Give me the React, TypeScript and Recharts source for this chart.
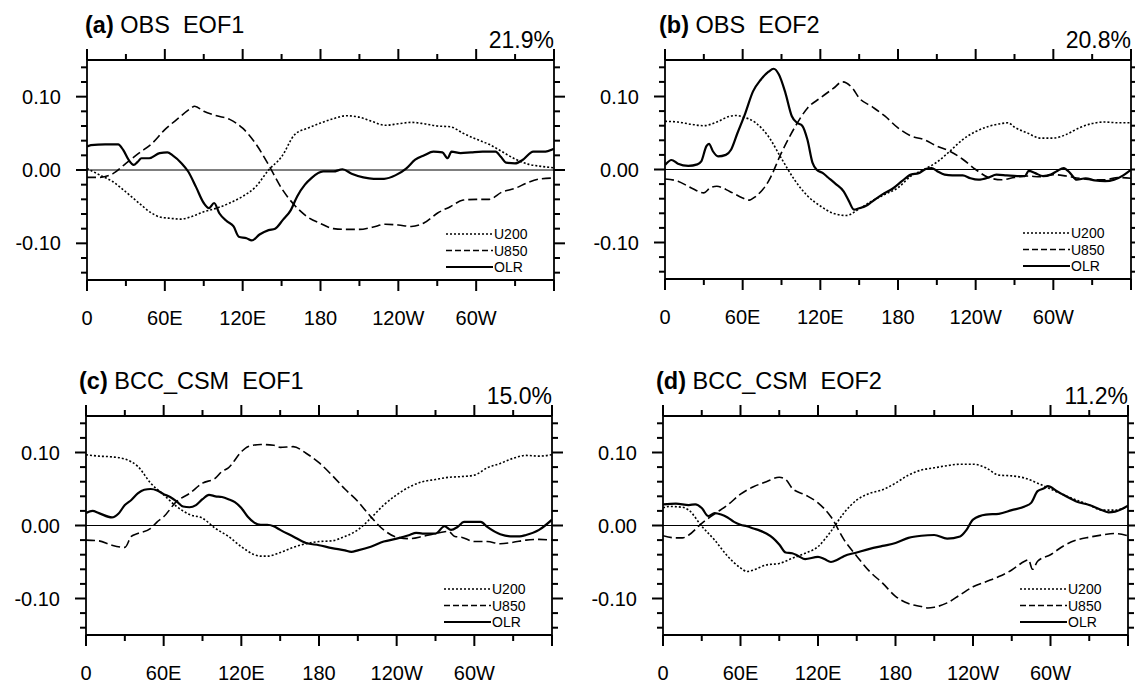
import React from 'react';
import { LineChart, Line, XAxis, YAxis, ReferenceLine } from 'recharts';

type Pt = [number, number];

const FONT = '"Liberation Sans", Arial, Helvetica, sans-serif';

// ---------- axis ticks ----------
const xTicks = [0, 30, 60, 90, 120, 150, 180, 210, 240, 270, 300, 330, 360];
const xMajorTicks = [0, 60, 120, 180, 240, 300];
const xTickLabels = ['0', '60E', '120E', '180', '120W', '60W'];
const yTicks = [-0.14, -0.12, -0.1, -0.08, -0.06, -0.04, -0.02, 0, 0.02, 0.04, 0.06, 0.08, 0.1, 0.12, 0.14];
const yMajorTicks = [-0.1, 0, 0.1];
const yTickLabels = ['-0.10', '0.00', '0.10'];
const legendNames = ['U200', 'U850', 'OLR'];

// ---------- (a) OBS EOF1 ----------
const aU200: Pt[] = [[0,0.002],[10,-0.007],[20,-0.016],[30,-0.030],[40,-0.045],[50,-0.059],[56,-0.064],[65,-0.066],[72,-0.067],[80,-0.064],[90,-0.057],[100,-0.052],[110,-0.045],[120,-0.036],[130,-0.023],[140,0.000],[150,0.018],[160,0.048],[170,0.057],[180,0.064],[190,0.070],[200,0.074],[210,0.072],[220,0.066],[230,0.061],[240,0.063],[250,0.065],[260,0.063],[270,0.060],[280,0.059],[290,0.050],[300,0.042],[310,0.035],[320,0.025],[330,0.015],[340,0.008],[350,0.005],[360,0.003]];
const aU850: Pt[] = [[0,-0.010],[10,-0.010],[20,-0.005],[30,0.009],[40,0.023],[50,0.036],[60,0.055],[70,0.070],[80,0.084],[83,0.087],[90,0.080],[100,0.074],[110,0.069],[120,0.057],[130,0.036],[140,0.007],[150,-0.025],[160,-0.048],[170,-0.064],[180,-0.073],[190,-0.080],[200,-0.081],[210,-0.081],[220,-0.078],[230,-0.074],[240,-0.075],[250,-0.077],[260,-0.072],[270,-0.059],[280,-0.050],[290,-0.041],[300,-0.040],[310,-0.040],[320,-0.030],[330,-0.025],[340,-0.017],[350,-0.012],[360,-0.011]];
const aOLR: Pt[] = [[0,0.032],[3,0.034],[14,0.035],[24,0.035],[28,0.027],[32,0.014],[36,0.007],[39,0.011],[42,0.016],[48,0.016],[56,0.023],[62,0.024],[66,0.020],[73,0.009],[78,-0.002],[84,-0.023],[90,-0.045],[94,-0.052],[98,-0.045],[102,-0.059],[108,-0.070],[113,-0.077],[117,-0.091],[123,-0.093],[127,-0.096],[133,-0.088],[140,-0.082],[145,-0.080],[151,-0.068],[157,-0.055],[162,-0.036],[168,-0.020],[173,-0.011],[182,-0.002],[190,-0.002],[197,0.001],[204,-0.005],[213,-0.010],[221,-0.012],[229,-0.012],[238,-0.007],[246,0.002],[253,0.014],[260,0.020],[267,0.025],[274,0.024],[278,0.016],[281,0.025],[288,0.023],[296,0.024],[305,0.025],[315,0.025],[319,0.018],[323,0.010],[330,0.009],[336,0.014],[344,0.025],[352,0.025],[360,0.029]];

// ---------- (b) OBS EOF2 ----------
const bU200: Pt[] = [[0,0.066],[10,0.065],[20,0.062],[30,0.060],[40,0.065],[50,0.073],[55,0.074],[60,0.072],[70,0.064],[80,0.045],[90,0.015],[100,-0.014],[110,-0.036],[120,-0.050],[130,-0.060],[140,-0.063],[150,-0.054],[160,-0.043],[170,-0.034],[180,-0.025],[190,-0.009],[200,0.000],[210,0.010],[220,0.025],[230,0.041],[240,0.052],[250,0.059],[260,0.063],[265,0.064],[270,0.058],[280,0.050],[290,0.043],[300,0.043],[310,0.048],[320,0.057],[330,0.063],[340,0.065],[350,0.064],[360,0.064]];
const bU850: Pt[] = [[0,-0.013],[10,-0.016],[20,-0.025],[30,-0.032],[35,-0.025],[40,-0.023],[50,-0.030],[60,-0.039],[65,-0.042],[70,-0.037],[80,-0.016],[90,0.023],[100,0.057],[110,0.084],[120,0.098],[130,0.111],[137,0.120],[145,0.111],[150,0.098],[160,0.086],[170,0.073],[180,0.057],[190,0.046],[200,0.041],[210,0.032],[220,0.025],[230,0.014],[240,0.000],[250,-0.011],[260,-0.014],[270,-0.011],[280,-0.009],[290,-0.010],[300,-0.007],[310,-0.009],[320,-0.012],[330,-0.014],[340,-0.014],[350,-0.011],[360,-0.012]];
const bOLR: Pt[] = [[0,0.006],[5,0.013],[10,0.008],[18,0.005],[25,0.007],[28,0.011],[32,0.032],[34,0.035],[37,0.025],[41,0.018],[47,0.020],[51,0.027],[56,0.050],[62,0.077],[68,0.107],[74,0.123],[80,0.134],[84,0.138],[88,0.130],[93,0.105],[98,0.073],[102,0.064],[106,0.060],[110,0.041],[114,0.009],[117,0.000],[122,-0.005],[126,-0.011],[132,-0.020],[138,-0.030],[142,-0.043],[146,-0.055],[150,-0.053],[155,-0.050],[160,-0.044],[168,-0.034],[176,-0.026],[183,-0.016],[190,-0.007],[196,-0.005],[202,0.001],[206,0.002],[210,-0.002],[216,-0.007],[222,-0.008],[230,-0.008],[236,-0.012],[242,-0.014],[250,-0.011],[256,-0.007],[264,-0.008],[272,-0.009],[278,-0.009],[281,-0.002],[286,-0.005],[292,-0.009],[298,-0.007],[303,-0.002],[308,0.002],[313,-0.005],[318,-0.014],[325,-0.012],[332,-0.015],[340,-0.016],[347,-0.014],[354,-0.008],[360,0.000]];

// ---------- (c) BCC_CSM EOF1 ----------
const cU200: Pt[] = [[0,0.097],[10,0.095],[20,0.094],[30,0.091],[40,0.081],[50,0.058],[60,0.042],[70,0.026],[80,0.015],[90,0.010],[100,-0.004],[110,-0.015],[120,-0.029],[130,-0.040],[135,-0.042],[140,-0.042],[150,-0.037],[160,-0.030],[170,-0.025],[180,-0.022],[190,-0.021],[200,-0.015],[210,-0.006],[220,0.010],[230,0.028],[240,0.042],[250,0.053],[260,0.060],[270,0.063],[280,0.066],[290,0.067],[300,0.069],[310,0.079],[320,0.085],[330,0.092],[340,0.096],[350,0.095],[360,0.097]];
const cU850: Pt[] = [[0,-0.020],[10,-0.021],[20,-0.027],[30,-0.030],[35,-0.015],[40,-0.011],[50,-0.004],[55,0.005],[60,0.012],[70,0.033],[80,0.044],[90,0.058],[100,0.065],[105,0.074],[110,0.079],[120,0.101],[125,0.108],[135,0.111],[145,0.110],[150,0.107],[160,0.108],[170,0.099],[180,0.086],[190,0.069],[200,0.050],[210,0.033],[220,0.012],[230,-0.006],[240,-0.016],[250,-0.018],[260,-0.015],[270,-0.011],[280,-0.008],[285,-0.015],[290,-0.016],[300,-0.022],[310,-0.022],[320,-0.025],[330,-0.023],[340,-0.020],[350,-0.019],[360,-0.020]];
const cOLR: Pt[] = [[0,0.017],[5,0.020],[10,0.017],[20,0.011],[25,0.016],[30,0.028],[35,0.035],[40,0.044],[45,0.049],[50,0.050],[55,0.048],[60,0.043],[65,0.039],[70,0.033],[75,0.026],[80,0.025],[85,0.028],[90,0.036],[95,0.042],[100,0.040],[105,0.039],[110,0.036],[115,0.032],[120,0.024],[125,0.012],[130,0.004],[135,0.001],[140,0.001],[145,-0.001],[150,-0.006],[160,-0.015],[170,-0.024],[180,-0.027],[190,-0.031],[200,-0.034],[205,-0.036],[210,-0.034],[220,-0.029],[230,-0.022],[240,-0.018],[250,-0.013],[255,-0.010],[260,-0.011],[270,-0.011],[277,-0.001],[282,-0.006],[287,-0.002],[292,0.005],[300,0.005],[305,0.005],[310,-0.002],[320,-0.012],[330,-0.015],[335,-0.015],[340,-0.013],[350,-0.006],[360,0.008]];

// ---------- (d) BCC_CSM EOF2 ----------
const dU200: Pt[] = [[0,0.024],[5,0.026],[15,0.025],[20,0.021],[30,-0.001],[40,-0.020],[50,-0.042],[60,-0.058],[65,-0.063],[70,-0.061],[80,-0.054],[90,-0.052],[100,-0.045],[110,-0.038],[120,-0.029],[130,-0.008],[140,0.017],[150,0.035],[160,0.044],[170,0.049],[180,0.058],[190,0.069],[200,0.076],[210,0.079],[220,0.082],[230,0.084],[240,0.084],[250,0.079],[260,0.069],[270,0.068],[280,0.065],[290,0.058],[300,0.050],[310,0.042],[320,0.035],[330,0.028],[340,0.021],[350,0.021],[360,0.026]];
const dU850: Pt[] = [[0,-0.014],[10,-0.017],[15,-0.017],[20,-0.013],[30,0.003],[40,0.016],[50,0.028],[60,0.043],[70,0.053],[80,0.060],[90,0.066],[95,0.063],[100,0.051],[110,0.042],[120,0.031],[130,0.012],[140,-0.019],[150,-0.042],[160,-0.063],[170,-0.079],[180,-0.097],[190,-0.107],[200,-0.111],[205,-0.113],[210,-0.112],[220,-0.106],[230,-0.095],[240,-0.084],[250,-0.077],[260,-0.070],[270,-0.061],[280,-0.049],[283,-0.047],[286,-0.060],[290,-0.049],[300,-0.040],[310,-0.028],[320,-0.020],[330,-0.016],[340,-0.013],[350,-0.011],[360,-0.014]];
const dOLR: Pt[] = [[0,0.029],[10,0.030],[20,0.028],[25,0.029],[30,0.024],[35,0.013],[40,0.017],[45,0.015],[50,0.011],[55,0.005],[60,0.001],[65,-0.001],[70,-0.004],[75,-0.007],[80,-0.011],[85,-0.017],[90,-0.026],[95,-0.037],[100,-0.038],[105,-0.042],[110,-0.046],[120,-0.043],[125,-0.046],[130,-0.050],[135,-0.047],[140,-0.042],[150,-0.037],[160,-0.032],[170,-0.028],[180,-0.024],[190,-0.017],[200,-0.014],[210,-0.013],[220,-0.018],[230,-0.015],[235,-0.006],[240,0.008],[250,0.015],[260,0.016],[270,0.021],[280,0.026],[285,0.031],[290,0.047],[295,0.051],[298,0.054],[305,0.047],[310,0.042],[320,0.033],[330,0.028],[340,0.021],[345,0.018],[350,0.019],[360,0.027]];

const toData = (pts: Pt[]) => pts.map(([lon, v]) => ({ lon, v }));

const panels = [
  { tag: '(a)', title: ' OBS  EOF1', pct: '21.9%', l: 87, t: 60, w: 467, h: 220, tx: 85, u200: aU200, u850: aU850, olr: aOLR },
  { tag: '(b)', title: ' OBS  EOF2', pct: '20.8%', l: 665, t: 60, w: 466, h: 219, tx: 659, u200: bU200, u850: bU850, olr: bOLR },
  { tag: '(c)', title: ' BCC_CSM  EOF1', pct: '15.0%', l: 86, t: 416, w: 466, h: 219, tx: 79, u200: cU200, u850: cU850, olr: cOLR },
  { tag: '(d)', title: ' BCC_CSM  EOF2', pct: '11.2%', l: 663, t: 416, w: 465, h: 219, tx: 656, u200: dU200, u850: dU850, olr: dOLR },
];

const X_DOMAIN: [number, number] = [0, 360];
const Y_DOMAIN: [number, number] = [-0.15, 0.15];
const MAJOR = 11;
const MINOR = 6;

const isMajorX = (v: number) => xMajorTicks.indexOf(v) >= 0 || v === 360;
const yMajorIndex = (v: number) => yMajorTicks.findIndex((m) => Math.abs(m - v) < 1e-9);

const BottomLabel = (props: any) => {
  const { x, y, payload } = props;
  const idx = xMajorTicks.indexOf(payload.value);
  if (idx < 0) return <g />;
  return (
    <text x={x} y={y + 45} textAnchor="middle" fontSize={20} fontFamily={FONT} fill="#000">
      {xTickLabels[idx]}
    </text>
  );
};

const LeftLabel = (props: any) => {
  const { x, y, payload } = props;
  const idx = yMajorIndex(payload.value);
  if (idx < 0) return <g />;
  return (
    <text x={x - 26} y={y + 7} textAnchor="end" fontSize={20} fontFamily={FONT} fill="#000">
      {yTickLabels[idx]}
    </text>
  );
};

const DOT = '2 2';
const DASH = '9 4';

function Panel(p: (typeof panels)[number]) {
  const LEFT = 87;
  const TOP = 60;
  const W = LEFT + p.w + 26;
  const H = TOP + p.h + 60;
  const axisLine = { stroke: '#000', strokeWidth: 1.8 };
  return (
    <div style={{ position: 'absolute', left: p.l - LEFT, top: p.t - TOP, width: W, height: H }}>
      <LineChart width={W} height={H} margin={{ top: 46, right: 12, bottom: 0, left: 0 }}>
        <XAxis xAxisId={0} dataKey="lon" type="number" domain={X_DOMAIN} ticks={xTicks} interval={0}
          orientation="bottom" height={60} tickSize={0} tickMargin={0} tickLine={false} axisLine={axisLine} tick={<BottomLabel />} allowDataOverflow />
        <XAxis xAxisId="top" dataKey="lon" type="number" domain={X_DOMAIN} ticks={xTicks} interval={0}
          orientation="top" height={14} tickLine={false} tick={false} axisLine={axisLine} allowDataOverflow />
        <YAxis yAxisId={0} type="number" domain={Y_DOMAIN} ticks={yTicks} interval={0}
          orientation="left" width={87} tickSize={0} tickMargin={0} tickLine={false} axisLine={axisLine} tick={<LeftLabel />} allowDataOverflow />
        <YAxis yAxisId="right" type="number" domain={Y_DOMAIN} ticks={yTicks} interval={0}
          orientation="right" width={14} tickLine={false} tick={false} axisLine={axisLine} allowDataOverflow />
        <ReferenceLine y={0} stroke="#000" strokeWidth={1} />
        <Line data={toData(p.u200)} dataKey="v" type="monotone" stroke="#000" strokeWidth={1.6} strokeDasharray={DOT} dot={false} activeDot={false} isAnimationActive={false} />
        <Line data={toData(p.u850)} dataKey="v" type="monotone" stroke="#000" strokeWidth={1.6} strokeDasharray={DASH} dot={false} activeDot={false} isAnimationActive={false} />
        <Line data={toData(p.olr)} dataKey="v" type="monotone" stroke="#000" strokeWidth={2.2} dot={false} activeDot={false} isAnimationActive={false} />
      </LineChart>
    </div>
  );
}

// Tick marks on all four sides of each frame, placed from the tick values on the frame.
function FrameTicks({ p }: { p: (typeof panels)[number] }) {
  const px = (v: number) => p.l + ((v - X_DOMAIN[0]) / (X_DOMAIN[1] - X_DOMAIN[0])) * p.w;
  const py = (v: number) => p.t + ((Y_DOMAIN[1] - v) / (Y_DOMAIN[1] - Y_DOMAIN[0])) * p.h;
  const bottom = p.t + p.h;
  const right = p.l + p.w;
  const segs: React.ReactNode[] = [];
  xTicks.forEach((v) => {
    const len = isMajorX(v) ? MAJOR : MINOR;
    const x = px(v);
    segs.push(<line key={`b${v}`} x1={x} x2={x} y1={bottom} y2={bottom + len} stroke="#000" strokeWidth={2} />);
    segs.push(<line key={`t${v}`} x1={x} x2={x} y1={p.t} y2={p.t - len} stroke="#000" strokeWidth={2} />);
  });
  yTicks.forEach((v) => {
    const len = yMajorIndex(v) >= 0 ? MAJOR : MINOR;
    const y = py(v);
    segs.push(<line key={`l${v}`} x1={p.l} x2={p.l - len} y1={y} y2={y} stroke="#000" strokeWidth={2} />);
    segs.push(<line key={`r${v}`} x1={right} x2={right + len} y1={y} y2={y} stroke="#000" strokeWidth={2} />);
  });
  return <g>{segs}</g>;
}

function Overlay() {
  const dashes = [DOT, '6 3', undefined];
  return (
    <svg width={1135} height={685} style={{ position: 'absolute', left: 0, top: 0, pointerEvents: 'none' }}>
      {panels.map((p, i) => {
        const right = p.l + p.w;
        const bottom = p.t + p.h;
        return (
          <g key={i} fontFamily={FONT} fill="#000">
            <FrameTicks p={p} />
            <text x={p.tx} y={p.t - 27} fontSize={23.5} style={{ whiteSpace: 'pre' }}>
              <tspan fontWeight="bold">{p.tag}</tspan>
              <tspan>{p.title}</tspan>
            </text>
            <text x={right} y={p.t - 12} fontSize={23} textAnchor="end">{p.pct}</text>
            {legendNames.map((name, k) => {
              const ly = bottom - 46 + k * 16.5;
              return (
                <g key={name}>
                  <line x1={right - 108} x2={right - 61} y1={ly} y2={ly} stroke="#000"
                    strokeWidth={k === 2 ? 1.8 : 1.4} strokeDasharray={dashes[k]} />
                  <text x={right - 60} y={ly + 5} fontSize={14}>{name}</text>
                </g>
              );
            })}
          </g>
        );
      })}
    </svg>
  );
}

export default function App() {
  return (
    <div style={{ position: 'absolute', left: 0, top: 0, width: 1135, height: 685, overflow: 'hidden', background: '#fff' }}>
      {panels.map((p, i) => (
        <Panel key={i} {...p} />
      ))}
      <Overlay />
    </div>
  );
}
